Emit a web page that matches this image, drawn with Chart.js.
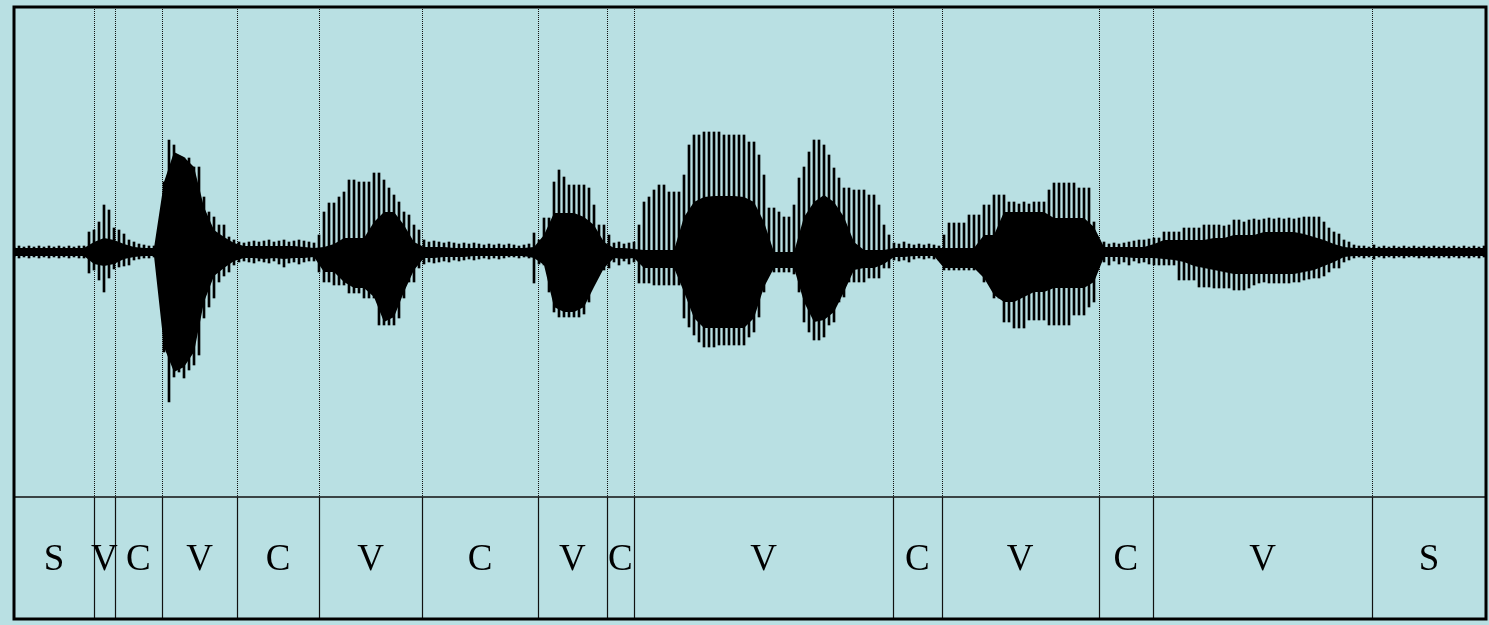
<!DOCTYPE html>
<html>
<head>
<meta charset="utf-8">
<script src="https://cdn.jsdelivr.net/npm/chart.js"></script>
<style>
  html, body { margin: 0; padding: 0; background: #b9e0e3; overflow: hidden; }
</style>
</head>
<body>
<canvas id="myChart" width="1489" height="625"></canvas>
<script>
// segment boundaries (ms) and their labels
const boundaries = [80, 100.5, 148, 223, 305, 408, 524, 592.5, 620, 879, 927.5, 1084.5, 1139, 1358]
const segLabels = ['S', 'V', 'C', 'V', 'C', 'V', 'C', 'V', 'C', 'V', 'C', 'V', 'C', 'V', 'S']
const duration = 1472

// waveform peaks, one value every 5 ms
const peakStep = 5
const peakHi = [
  5, 6, 5, 6, 5, 6, 5, 6, 5, 6,
  5, 6, 5, 6, 6, 20, 22, 30, 47, 42,
  24, 22, 18, 12, 10, 8, 7, 6, 6, 15,
  70, 112, 107, 94, 94, 94, 85, 85, 55, 40,
  35, 27, 27, 15, 12, 10, 9, 10, 11, 10,
  11, 12, 10, 11, 12, 10, 11, 12, 11, 10,
  9, 17, 40, 49, 49, 55, 60, 72, 72, 70,
  70, 70, 79, 79, 72, 64, 57, 50, 40, 37,
  27, 22, 12, 10, 11, 10, 9, 10, 9, 8,
  9, 8, 9, 8, 7, 8, 7, 8, 7, 8,
  7, 6, 7, 8, 19, 12, 34, 34, 70, 82,
  75, 67, 67, 67, 67, 64, 47, 27, 27, 17,
  9, 10, 8, 9, 10, 27, 50, 55, 62, 67,
  67, 60, 60, 60, 77, 107, 117, 117, 120, 120,
  120, 120, 117, 117, 117, 117, 117, 110, 110, 97,
  77, 44, 44, 40, 35, 35, 47, 74, 85, 100,
  112, 112, 107, 97, 84, 74, 64, 64, 62, 62,
  62, 57, 57, 47, 27, 17, 9, 8, 10, 8,
  7, 8, 7, 8, 7, 6, 17, 29, 29, 29,
  29, 37, 37, 37, 47, 47, 57, 57, 57, 50,
  50, 48, 50, 48, 50, 50, 50, 62, 69, 69,
  69, 69, 69, 64, 64, 64, 30, 12, 10, 8,
  9, 8, 9, 10, 11, 12, 12, 13, 14, 14,
  20, 20, 20, 20, 24, 24, 24, 24, 27, 27,
  27, 27, 26, 27, 32, 32, 30, 32, 33, 32,
  33, 34, 33, 34, 33, 34, 33, 34, 35, 35,
  35, 35, 30, 24, 20, 18, 12, 10, 7, 6,
  6, 5, 7, 5, 6, 5, 6, 5, 6, 5,
  6, 5, 6, 5, 6, 5, 6, 5, 6, 5,
  6, 5, 6, 5, 6
]
const peakLo = [
  -5, -6, -5, -6, -5, -6, -5, -6, -5, -6,
  -5, -6, -5, -6, -6, -21, -18, -28, -40, -26,
  -17, -15, -14, -13, -8, -7, -6, -6, -5, -21,
  -100, -150, -125, -120, -126, -118, -113, -103, -66, -55,
  -46, -30, -24, -20, -13, -10, -9, -10, -11, -9,
  -10, -11, -9, -12, -15, -11, -10, -12, -10, -9,
  -9, -20, -30, -30, -33, -33, -33, -41, -41, -41,
  -46, -46, -46, -73, -73, -73, -73, -66, -46, -30,
  -30, -16, -12, -10, -11, -10, -9, -10, -8, -9,
  -8, -7, -8, -7, -6, -7, -6, -7, -6, -5,
  -5, -6, -5, -6, -31, -12, -13, -40, -60, -65,
  -65, -65, -65, -65, -62, -50, -30, -18, -18, -16,
  -10, -13, -9, -12, -10, -31, -31, -31, -33, -33,
  -33, -33, -33, -33, -66, -75, -83, -90, -95, -95,
  -95, -93, -93, -93, -93, -93, -93, -85, -80, -65,
  -40, -20, -20, -20, -20, -20, -22, -40, -70, -80,
  -88, -88, -85, -73, -70, -50, -45, -30, -30, -30,
  -30, -26, -26, -26, -16, -16, -8, -9, -8, -10,
  -7, -6, -7, -6, -7, -8, -18, -18, -18, -18,
  -18, -18, -18, -18, -30, -30, -46, -46, -70, -70,
  -76, -76, -76, -68, -68, -68, -68, -73, -73, -73,
  -73, -73, -63, -63, -63, -55, -50, -12, -10, -13,
  -9, -12, -10, -13, -9, -11, -10, -12, -13, -13,
  -13, -13, -13, -28, -28, -28, -28, -35, -35, -35,
  -36, -36, -36, -36, -38, -38, -38, -36, -33, -31,
  -30, -31, -31, -31, -31, -31, -30, -30, -28, -27,
  -26, -26, -24, -20, -16, -16, -10, -8, -6, -5,
  -6, -5, -7, -5, -6, -5, -6, -5, -6, -5,
  -5, -6, -5, -6, -5, -6, -5, -6, -5, -6,
  -5, -6, -5, -6, -5
]

// dense core of the signal, one value every 10 ms
const coreStep = 10
const coreHi = [
  4, 4, 4, 4, 4, 4, 4, 4, 10, 14,
  12, 8, 5, 4, 4, 70, 100, 95, 85, 45,
  22, 15, 9, 6, 6, 6, 6, 6, 6, 5,
  4, 5, 8, 14, 14, 14, 30, 40, 40, 27,
  10, 5, 5, 5, 4, 4, 4, 4, 4, 4,
  4, 4, 5, 17, 39, 39, 39, 35, 27, 10,
  4, 4, 3, 2, 2, 2, 2, 35, 50, 55,
  56, 56, 56, 55, 50, 30, 0, 0, 0, 35,
  50, 57, 50, 35, 10, 2, 2, 2, 4, 4,
  4, 4, 4, 4, 4, 4, 4, 17, 17, 40,
  40, 40, 40, 40, 34, 34, 34, 34, 25, 5,
  5, 5, 5, 5, 8, 12, 12, 12, 12, 12,
  14, 14, 17, 17, 17, 20, 20, 20, 20, 18,
  15, 12, 8, 5, 4, 4, 4, 4, 4, 4,
  4, 4, 4, 4, 4, 4, 4, 4
]
const coreLo = [
  -4, -4, -4, -4, -4, -4, -4, -4, -12, -14,
  -12, -7, -5, -4, -4, -95, -120, -115, -100, -50,
  -24, -16, -9, -6, -6, -7, -6, -7, -6, -6,
  -5, -20, -20, -30, -36, -36, -45, -70, -65, -40,
  -18, -6, -6, -5, -5, -5, -4, -4, -4, -4,
  -4, -4, -6, -13, -55, -60, -60, -55, -35, -16,
  -6, -7, -6, -16, -16, -16, -16, -40, -66, -76,
  -76, -76, -76, -76, -66, -35, -16, -16, -16, -50,
  -70, -68, -60, -40, -18, -16, -16, -12, -5, -5,
  -4, -4, -4, -16, -16, -16, -16, -26, -43, -50,
  -50, -45, -40, -40, -36, -36, -36, -36, -30, -5,
  -5, -5, -6, -6, -6, -7, -8, -10, -14, -16,
  -18, -20, -22, -22, -22, -22, -22, -22, -22, -20,
  -18, -14, -10, -5, -4, -4, -4, -4, -4, -4,
  -4, -4, -4, -4, -4, -4, -4, -4
]

const toBars = (hi, lo, step) => hi.map((v, i) => ({ x: i * step, y: [lo[i], v] }))
const toLine = (vals, step) => vals.map((v, i) => ({ x: i * step, y: v }))

/////////////////////////////////
// segment lines, labels and frame
/////////////////////////////////
const segmentPlugin = {
  id: 'segments',
  beforeDatasetsDraw(chart) {
    const { ctx, scales: { x, y } } = chart
    ctx.save()
    ctx.strokeStyle = '#111'
    ctx.lineWidth = 1
    ctx.setLineDash([1, 1])
    boundaries.forEach(b => {
      const px = Math.round(x.getPixelForValue(b)) + 0.5
      ctx.beginPath()
      ctx.moveTo(px, y.top)
      ctx.lineTo(px, y.bottom)
      ctx.stroke()
    })
    ctx.restore()
  },
  afterDraw(chart) {
    const { ctx, chartArea, scales: { x, yl } } = chart
    ctx.save()
    ctx.strokeStyle = '#111'
    ctx.lineWidth = 1.2
    boundaries.forEach(b => {
      const px = Math.round(x.getPixelForValue(b)) + 0.5
      ctx.beginPath()
      ctx.moveTo(px, yl.top)
      ctx.lineTo(px, yl.bottom)
      ctx.stroke()
    })
    ctx.lineWidth = 1.6
    ctx.beginPath()
    ctx.moveTo(chartArea.left, yl.top)
    ctx.lineTo(chartArea.right, yl.top)
    ctx.stroke()

    ctx.fillStyle = '#000'
    ctx.font = '37px "Liberation Serif", "Times New Roman", serif'
    ctx.textAlign = 'center'
    ctx.textBaseline = 'alphabetic'
    const edges = [0, ...boundaries, duration]
    segLabels.forEach((lab, i) => {
      const cx = x.getPixelForValue((edges[i] + edges[i + 1]) / 2)
      ctx.fillText(lab, cx, (yl.top + yl.bottom) / 2 + 12)
    })

    ctx.strokeStyle = '#000'
    ctx.lineWidth = 3
    ctx.strokeRect(chartArea.left, chartArea.top, chartArea.width, chartArea.height)
    ctx.restore()
  }
}

const hidden = {
  ticks: { display: false },
  grid: { display: false, drawTicks: false },
  border: { display: false }
}

const ctx = document.getElementById('myChart')
const chart = new Chart(ctx, {
  type: 'bar',
  data: {
    datasets: [
      {
        type: 'line',
        label: 'core top',
        data: toLine(coreHi, coreStep),
        yAxisID: 'y',
        borderWidth: 0,
        pointRadius: 0,
        fill: '+1',
        backgroundColor: '#000'
      },
      {
        type: 'line',
        label: 'core bottom',
        data: toLine(coreLo, coreStep),
        yAxisID: 'y',
        borderWidth: 0,
        pointRadius: 0,
        fill: false
      },
      {
        label: 'peaks',
        data: toBars(peakHi, peakLo, peakStep),
        yAxisID: 'y',
        backgroundColor: '#000',
        barThickness: 2,
        grouped: false
      }
    ]
  },
  options: {
    responsive: false,
    animation: false,
    layout: { padding: { left: 14, right: 3, top: 7, bottom: 6 } },
    plugins: { legend: { display: false }, tooltip: { enabled: false } },
    scales: {
      x: { type: 'linear', min: 0, max: duration, offset: false, display: false },
      yl: { type: 'linear', min: 0, max: 1, stack: 'sig', stackWeight: 122, ...hidden },
      y: { type: 'linear', min: -245, max: 245, stack: 'sig', stackWeight: 490, ...hidden }
    }
  },
  plugins: [segmentPlugin]
})
</script>
</body>
</html>
